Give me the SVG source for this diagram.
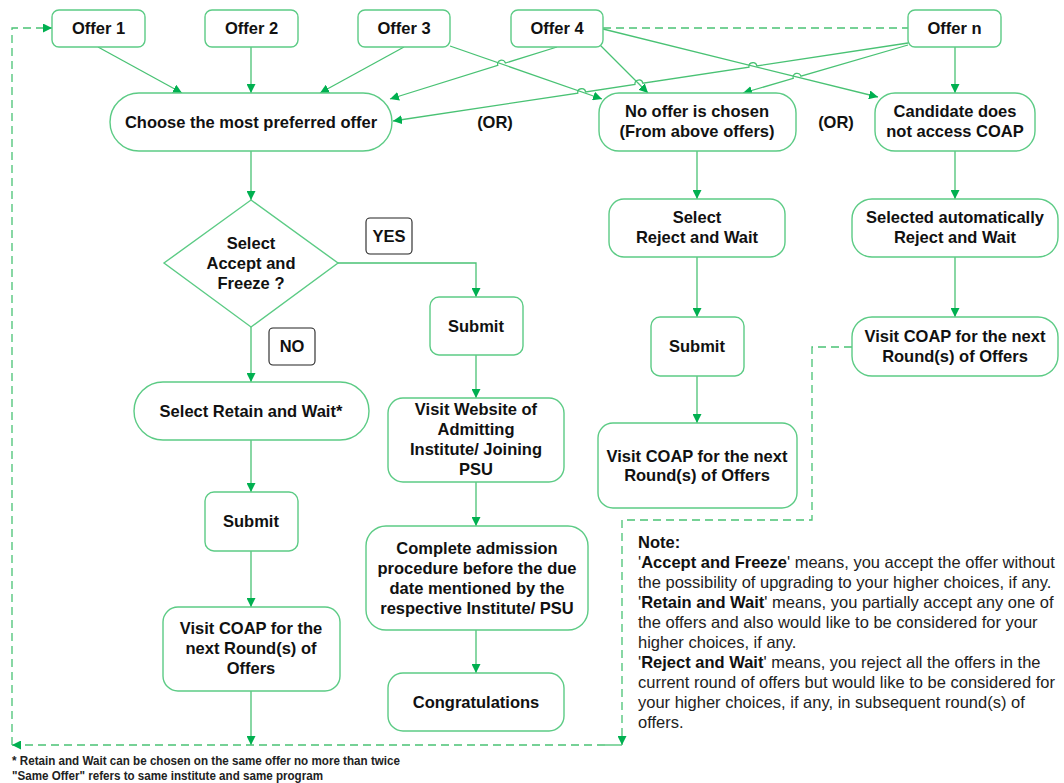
<svg xmlns="http://www.w3.org/2000/svg" width="1064" height="783" viewBox="0 0 1064 783">
<style>
.box{fill:#fff;stroke:#5ccb85;stroke-width:1.4}
.lbl{fill:#fff;stroke:#222;stroke-width:1.1}
.t{font-family:"Liberation Sans",Arial,sans-serif;font-weight:bold;font-size:16.5px;fill:#111;text-anchor:middle}
.ln{fill:none;stroke:#49c274;stroke-width:1.3}
.dash{fill:none;stroke:#49c274;stroke-width:1.3;stroke-dasharray:8 5}
.note{font-family:"Liberation Sans",Arial,sans-serif;font-size:16.5px;fill:#222}
.note tspan.b{font-weight:bold;fill:#111}
.foot{font-family:"Liberation Sans",Arial,sans-serif;font-size:12.5px;font-weight:bold;fill:#222}
</style>
<defs>
<marker id="ah" viewBox="0 0 10 10" refX="10" refY="5" markerWidth="9" markerHeight="9" markerUnits="userSpaceOnUse" orient="auto">
<path d="M0,0 L10,5 L0,10 z" fill="#00b050"/>
</marker>
</defs>
<rect width="1064" height="783" fill="#fff"/>

<g id="connectors">
<path class="ln" d="M98 47 L182 93" marker-end="url(#ah)"/>
<path class="ln" d="M251 47 L251 93" marker-end="url(#ah)"/>
<path class="ln" d="M404 47 L320 93" marker-end="url(#ah)"/>
<path class="ln" d="M450 46 L602 99" marker-end="url(#ah)"/>
<path class="ln" d="M557 47 L505.42 63.01 A4 4 0 0 0 497.78 65.39 L390 99" marker-end="url(#ah)"/>
<path class="ln" d="M600 45 L648 93" marker-end="url(#ah)"/>
<path class="ln" d="M603 29 L878 97" marker-end="url(#ah)"/>
<path class="ln" d="M908 45 L800.94 76.18 A4 4 0 0 0 793.26 78.42 L743 93" marker-end="url(#ah)"/>
<path class="ln" d="M908 43 L756.85 65.9 A4 4 0 0 0 748.95 67.1 L642.85 83.2 A4 4 0 0 0 634.95 84.4 L585.65 91.9 A4 4 0 0 0 577.75 93.1 L393 121" marker-end="url(#ah)"/>
<path class="ln" d="M955 47 L955 93" marker-end="url(#ah)"/>
<path class="dash" d="M603 28 L908 28"/>

<path class="ln" d="M251 151 L251 200" marker-end="url(#ah)"/>
<path class="ln" d="M251 327 L251 382" marker-end="url(#ah)"/>
<path class="ln" d="M251 440 L251 492" marker-end="url(#ah)"/>
<path class="ln" d="M251 551 L251 607" marker-end="url(#ah)"/>
<path class="ln" d="M251 691 L251 745" marker-end="url(#ah)"/>
<path class="ln" d="M338 263 L476 263 L476 297" marker-end="url(#ah)"/>
<path class="ln" d="M476 355 L476 398" marker-end="url(#ah)"/>
<path class="ln" d="M476 482 L476 526" marker-end="url(#ah)"/>
<path class="ln" d="M476 630 L476 673" marker-end="url(#ah)"/>
<path class="ln" d="M697 151 L697 199" marker-end="url(#ah)"/>
<path class="ln" d="M697 257 L697 317" marker-end="url(#ah)"/>
<path class="ln" d="M697 376 L697 423" marker-end="url(#ah)"/>
<path class="ln" d="M955 151 L955 199" marker-end="url(#ah)"/>
<path class="ln" d="M955 257 L955 317" marker-end="url(#ah)"/>

<path class="dash" d="M852 347 L812 347 L812 520 L622 520 L622 745" marker-end="url(#ah)"/>
<path class="ln" d="M605 745 L622 745"/>
<path class="dash" d="M605 745 L12 745" marker-end="url(#ah)"/>
<path class="dash" d="M12 745 L12 28 L52 28" marker-end="url(#ah)"/>
</g>

<g id="offer1"><rect class="box" x="52" y="10" width="93" height="37" rx="7"/><text class="t" x="98.5" y="34">Offer 1</text></g>
<g id="offer2"><rect class="box" x="205" y="10" width="93" height="37" rx="7"/><text class="t" x="251.5" y="34">Offer 2</text></g>
<g id="offer3"><rect class="box" x="358" y="10" width="92" height="37" rx="7"/><text class="t" x="404" y="34">Offer 3</text></g>
<g id="offer4"><rect class="box" x="511" y="10" width="92" height="37" rx="7"/><text class="t" x="557" y="34">Offer 4</text></g>
<g id="offern"><rect class="box" x="908" y="10" width="93" height="37" rx="7"/><text class="t" x="954.5" y="34">Offer n</text></g>

<g id="choose"><rect class="box" x="110" y="93" width="282" height="58" rx="29"/><text class="t" x="251" y="128">Choose the most preferred offer</text></g>
<g id="or1"><text class="t" x="495" y="128">(OR)</text></g>
<g id="nooffer"><rect class="box" x="599" y="93" width="197" height="58" rx="20"/><text class="t" x="697" y="117">No offer is chosen</text><text class="t" x="697" y="137">(From above offers)</text></g>
<g id="or2"><text class="t" x="836" y="128">(OR)</text></g>
<g id="candidate"><rect class="box" x="875" y="93" width="160" height="58" rx="20"/><text class="t" x="955" y="117">Candidate does</text><text class="t" x="955" y="137">not access COAP</text></g>

<g id="decision"><path class="box" d="M251 200 L338 263 L251 327 L164 263 Z"/><text class="t" x="251" y="249">Select</text><text class="t" x="251" y="269">Accept and</text><text class="t" x="251" y="289">Freeze ?</text></g>
<g id="yes"><rect class="lbl" x="366" y="218" width="46" height="36" rx="4"/><text class="t" x="389" y="242">YES</text></g>
<g id="no"><rect class="lbl" x="269" y="328" width="46" height="37" rx="4"/><text class="t" x="292" y="352">NO</text></g>

<g id="retain"><rect class="box" x="134" y="382" width="235" height="58" rx="29"/><text class="t" x="251" y="417">Select Retain and Wait*</text></g>
<g id="submit1"><rect class="box" x="205" y="492" width="93" height="59" rx="9"/><text class="t" x="251" y="527">Submit</text></g>
<g id="visit1"><rect class="box" x="163" y="607" width="177" height="84" rx="15"/><text class="t" x="251" y="634">Visit COAP for the</text><text class="t" x="251" y="654">next Round(s) of</text><text class="t" x="251" y="674">Offers</text></g>

<g id="submit2"><rect class="box" x="430" y="297" width="93" height="58" rx="9"/><text class="t" x="476" y="332">Submit</text></g>
<g id="website"><rect class="box" x="388" y="398" width="176" height="84" rx="15"/><text class="t" x="476" y="415">Visit Website of</text><text class="t" x="476" y="435">Admitting</text><text class="t" x="476" y="455">Institute/ Joining</text><text class="t" x="476" y="475">PSU</text></g>
<g id="complete"><rect class="box" x="366" y="526" width="222" height="104" rx="20"/><text class="t" x="477" y="554">Complete admission</text><text class="t" x="477" y="574">procedure before the due</text><text class="t" x="477" y="594">date mentioned by the</text><text class="t" x="477" y="614">respective Institute/ PSU</text></g>
<g id="congrats"><rect class="box" x="388" y="673" width="176" height="58" rx="15"/><text class="t" x="476" y="708">Congratulations</text></g>

<g id="reject"><rect class="box" x="609" y="199" width="176" height="58" rx="15"/><text class="t" x="697" y="223">Select</text><text class="t" x="697" y="243">Reject and Wait</text></g>
<g id="submit3"><rect class="box" x="651" y="317" width="93" height="59" rx="9"/><text class="t" x="697" y="352">Submit</text></g>
<g id="visit3"><rect class="box" x="598" y="423" width="199" height="85" rx="15"/><text class="t" x="697" y="462">Visit COAP for the next</text><text class="t" x="697" y="481">Round(s) of Offers</text></g>

<g id="auto"><rect class="box" x="852" y="199" width="206" height="58" rx="20"/><text class="t" x="955" y="223">Selected automatically</text><text class="t" x="955" y="243">Reject and Wait</text></g>
<g id="visit4"><rect class="box" x="852" y="317" width="206" height="59" rx="20"/><text class="t" x="955" y="342">Visit COAP for the next</text><text class="t" x="955" y="362">Round(s) of Offers</text></g>

<g id="notes">
<text class="note" x="638" y="548"><tspan class="b">Note:</tspan></text>
<text class="note" x="638" y="568">'<tspan class="b">Accept and Freeze</tspan>' means, you accept the offer without</text>
<text class="note" x="638" y="588">the possibility of upgrading to your higher choices, if any.</text>
<text class="note" x="638" y="608">'<tspan class="b">Retain and Wait</tspan>' means, you partially accept any one of</text>
<text class="note" x="638" y="628">the offers and also would like to be considered for your</text>
<text class="note" x="638" y="648">higher choices, if any.</text>
<text class="note" x="638" y="668">'<tspan class="b">Reject and Wait</tspan>' means, you reject all the offers in the</text>
<text class="note" x="638" y="688">current round of offers but would like to be considered for</text>
<text class="note" x="638" y="708">your higher choices, if any, in subsequent round(s) of</text>
<text class="note" x="638" y="728">offers.</text>
</g>
<g id="footnote">
<text class="foot" x="12" y="765" textLength="388" lengthAdjust="spacingAndGlyphs">* Retain and Wait can be chosen on the same offer no more than twice</text>
<text class="foot" x="12" y="780" textLength="311" lengthAdjust="spacingAndGlyphs">"Same Offer" refers to same institute and same program</text>
</g>
</svg>
